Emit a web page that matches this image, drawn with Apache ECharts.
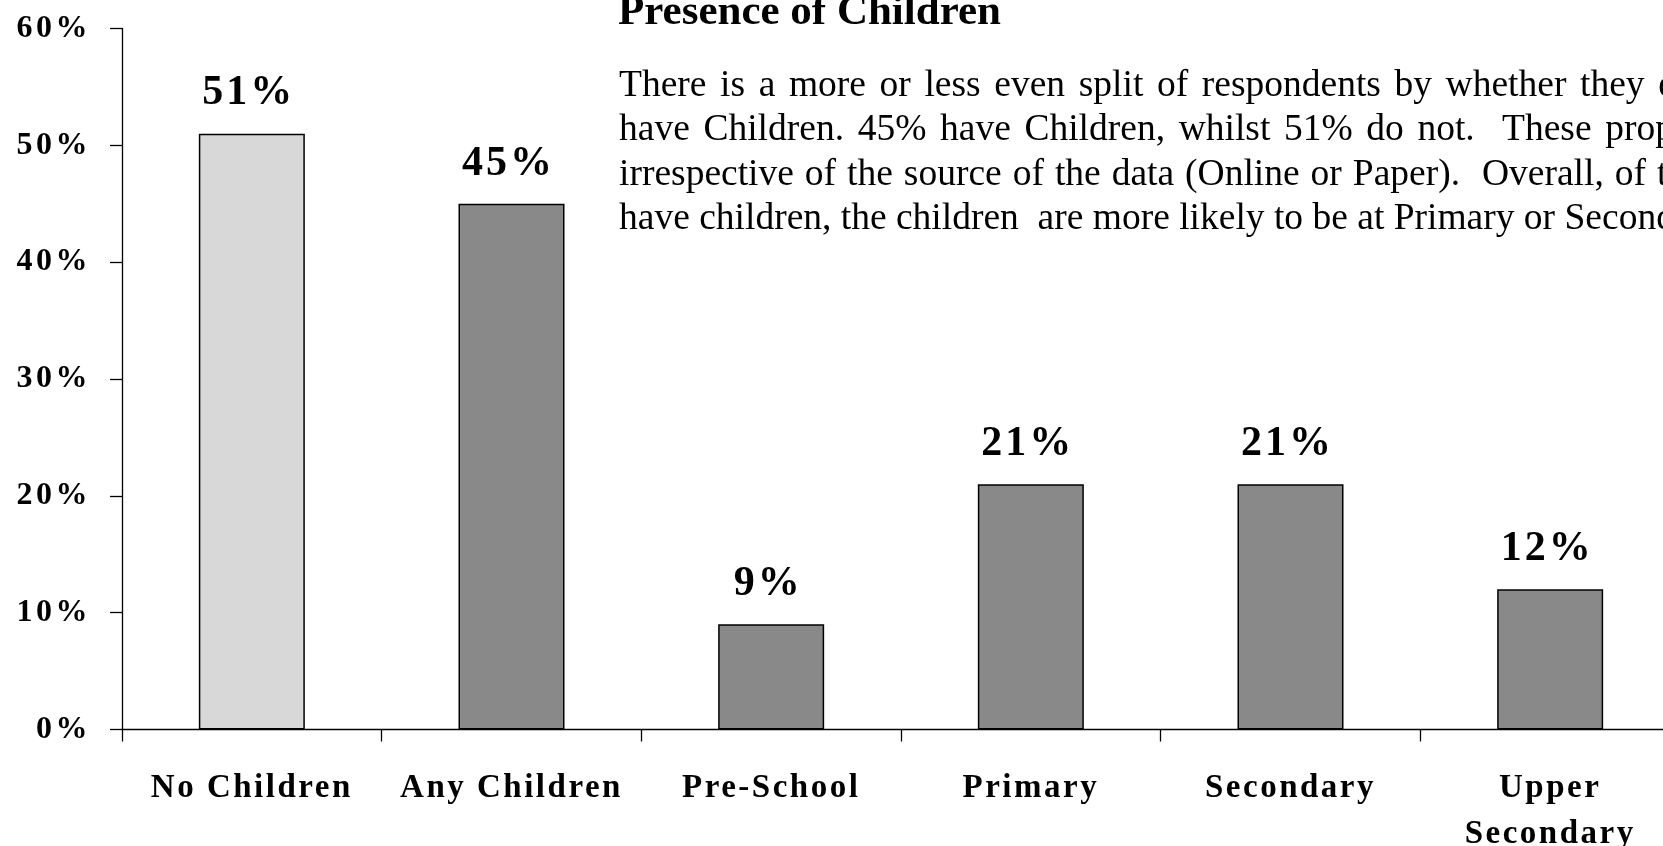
<!DOCTYPE html>
<html>
<head>
<meta charset="utf-8">
<script src="https://cdn.jsdelivr.net/npm/echarts@6/dist/echarts.min.js"></script>
<style>
  html, body { margin: 0; padding: 0; background: #ffffff; }
  #chart { width: 1663px; height: 846px; }
</style>
</head>
<body>
<div id="chart"></div>
<script>
// Share of respondents by presence of children
const categories = ['No Children', 'Any Children', 'Pre-School', 'Primary', 'Secondary', 'Upper\nSecondary'];
const shares = [51, 45, 9, 21, 21, 12];
const yTicks = [0, 10, 20, 30, 40, 50, 60];

const titleText = 'Presence of Children';
const paragraphLines = [
  'There is a more or less even split of respondents by whether they do or do not',
  'have Children. 45% have Children, whilst 51% do not.  These proportions are',
  'irrespective of the source of the data (Online or Paper).  Overall, of those who',
  'have children, the children  are more likely to be at Primary or Secondary school'
];

const SERIF = '"Liberation Serif", "Times New Roman", serif';
const PARA_SIZE = 37.5;
const PARA_FONT = PARA_SIZE + 'px ' + SERIF;
const PARA_LEFT = 619;
const PARA_BASELINES = [98.5, 143, 187.5, 232];
// Justified lines: [word index, x where that word starts]; null = natural spacing
const justifyAnchors = [[12, 1580], [10, 1502], [11, 1482], null];

// Expanded character spacing for the bold axis and value labels (by font size)
const boldSpacing = { 32: 3.5, 33: 2.5, 42: 3 };
(function () {
  const proto = CanvasRenderingContext2D.prototype;
  if (!('letterSpacing' in proto)) return;
  const origFill = proto.fillText;
  proto.fillText = function (text, x, y, maxW) {
    const m = /bold\s+(\d+(?:\.\d+)?)px/.exec(this.font);
    const sp = m ? boldSpacing[Math.round(parseFloat(m[1]))] : undefined;
    if (sp) {
      const prev = this.letterSpacing;
      this.letterSpacing = sp + 'px';
      const r = maxW === undefined ? origFill.call(this, text, x, y) : origFill.call(this, text, x, y, maxW);
      this.letterSpacing = prev;
      return r;
    }
    return maxW === undefined ? origFill.call(this, text, x, y) : origFill.call(this, text, x, y, maxW);
  };
})();

const measureCtx = document.createElement('canvas').getContext('2d');
measureCtx.font = PARA_FONT;
const spaceW = measureCtx.measureText(' ').width;

function layoutLine(line, lineIdx) {
  const words = line.split(' ');
  const widths = words.map(w => measureCtx.measureText(w).width);
  let extra = 0;
  const anchor = justifyAnchors[lineIdx];
  if (anchor) {
    const k = anchor[0];
    let natural = PARA_LEFT;
    for (let i = 0; i < k; i++) natural += widths[i] + spaceW;
    extra = (anchor[1] - natural) / k;
  }
  const els = [];
  let x = PARA_LEFT;
  words.forEach((w, i) => {
    if (w.length) {
      els.push({
        type: 'text',
        silent: true,
        style: {
          text: w,
          x: x,
          y: PARA_BASELINES[lineIdx] - PARA_SIZE * 0.34,
          font: PARA_FONT,
          fill: '#000000',
          align: 'left',
          verticalAlign: 'middle'
        }
      });
    }
    x += widths[i] + spaceW + extra;
  });
  return els;
}

const graphicEls = [{
  type: 'text',
  silent: true,
  style: {
    text: titleText,
    x: 618,
    y: 28 - 43 * 0.34,
    font: 'bold 43px ' + SERIF,
    fill: '#000000',
    align: 'left',
    verticalAlign: 'middle'
  }
}];
paragraphLines.forEach((line, i) => {
  graphicEls.push(...layoutLine(line, i));
});

const chart = echarts.init(document.getElementById('chart'), null, { renderer: 'canvas' });

chart.setOption({
  backgroundColor: '#ffffff',
  animation: false,
  grid: { left: 122, top: 28.5, width: 1558, height: 701, containLabel: false, outerBoundsMode: 'none' },
  xAxis: {
    type: 'category',
    data: categories,
    boundaryGap: true,
    axisLine: { show: true, lineStyle: { color: '#000000', width: 1.3 } },
    axisTick: { show: true, length: 12, inside: false, alignWithLabel: false, lineStyle: { color: '#000000', width: 1.3 } },
    axisLabel: {
      interval: 0,
      margin: 36,
      color: '#000000',
      fontFamily: SERIF,
      fontWeight: 'bold',
      fontSize: 33,
      lineHeight: 46
    },
    splitLine: { show: false }
  },
  yAxis: {
    type: 'value',
    min: yTicks[0],
    max: yTicks[yTicks.length - 1],
    interval: 10,
    axisLine: { show: true, lineStyle: { color: '#000000', width: 1.3 } },
    axisTick: { show: true, length: 12, inside: false, lineStyle: { color: '#000000', width: 1.3 } },
    axisLabel: {
      margin: 31,
      color: '#000000',
      fontFamily: SERIF,
      fontWeight: 'bold',
      fontSize: 32,
      formatter: '{value}%'
    },
    splitLine: { show: false }
  },
  series: [{
    type: 'bar',
    data: shares,
    barWidth: 106,
    itemStyle: {
      color: p => (p.dataIndex === 0 ? '#d8d8d8' : '#898989'),
      borderColor: '#000000',
      borderWidth: 1.5
    },
    label: {
      show: true,
      position: 'top',
      distance: 19,
      offset: [-3, 0],
      formatter: '{c}%',
      color: '#000000',
      fontFamily: SERIF,
      fontWeight: 'bold',
      fontSize: 42
    }
  }],
  graphic: graphicEls
});
</script>
</body>
</html>
